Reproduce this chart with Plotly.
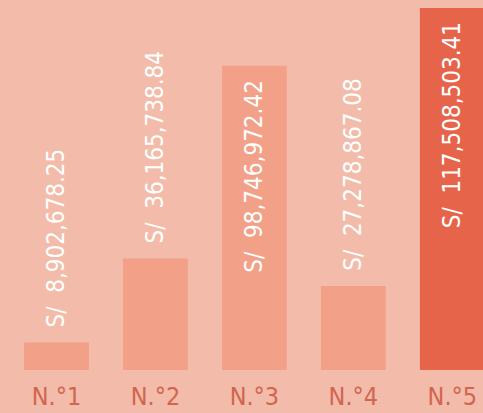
import plotly.graph_objects as go

# Amounts per group (soles)
categories = ["N.°1", "N.°2", "N.°3", "N.°4", "N.°5"]
amounts = [8902678.25, 36165738.84, 98746972.42, 27278867.08, 117508503.41]

BG = "#F3BBA9"
BAR = "#F3A088"
BAR_TOP = "#E6644A"
TICK = "#D2654F"
FONT = "Liberation Sans Narrow, DejaVu Sans Condensed, sans-serif"

top = max(amounts)
colors = [BAR_TOP if v == top else BAR for v in amounts]
labels = ["S/\u00a0 {:,.2f}".format(v) for v in amounts]

fig = go.Figure(
    go.Bar(
        x=categories,
        y=amounts,
        marker=dict(color=colors, line=dict(width=0)),
        hoverinfo="skip",
    )
)

# Vertical value labels: inside the tall bars, above the short ones
for cat, v, txt in zip(categories, amounts, labels):
    inside = v > 0.6 * top
    fig.add_annotation(
        x=cat,
        y=v,
        text=txt,
        textangle=-90,
        showarrow=False,
        xanchor="center",
        yanchor="top" if inside else "bottom",
        yshift=-12 if inside else 13,
        font=dict(family=FONT, size=24, color="white"),
    )

fig.update_layout(
    width=483,
    height=413,
    margin=dict(l=7, r=0, t=0, b=43),
    paper_bgcolor=BG,
    plot_bgcolor=BG,
    bargap=0.345,
    showlegend=False,
    xaxis=dict(
        range=[-0.5, 4.31],
        showgrid=False,
        zeroline=False,
        showline=False,
        ticks="",
        automargin=False,
        ticklabelstandoff=9,
        tickfont=dict(family=FONT, size=25, color=TICK),
    ),
    yaxis=dict(
        range=[0, 120.1e6],
        visible=False,
    ),
)

fig.write_html("out.html")
